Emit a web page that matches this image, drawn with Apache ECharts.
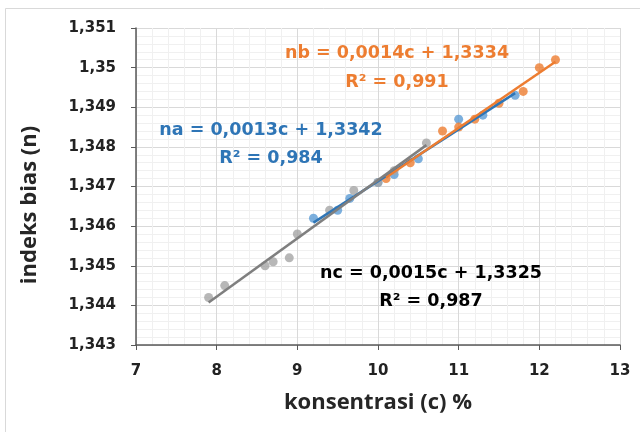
<!DOCTYPE html>
<html>
<head>
<meta charset="utf-8">
<script src="https://cdn.jsdelivr.net/npm/echarts@6/dist/echarts.min.js"></script>
<style>
  html, body { margin: 0; padding: 0; background: #fff; }
  #chart { width: 640px; height: 432px; }
</style>
</head>
<body>
<div id="chart"></div>
<script>
// data
const naX = [9.2, 9.5, 9.65, 10.0, 10.2, 10.5, 11.0, 11.3, 11.7];
const naY = [1.3462, 1.3464, 1.3467, 1.3471, 1.3473, 1.3477, 1.3487, 1.3488, 1.3493];
const nbX = [10.1, 10.4, 10.8, 11.0, 11.2, 11.5, 11.8, 12.0, 12.2];
const nbY = [1.3472, 1.3476, 1.3484, 1.3485, 1.3487, 1.3491, 1.3494, 1.3500, 1.3502];
const ncX = [7.9, 8.1, 8.6, 8.7, 8.9, 9.0, 9.4, 9.7, 10.0, 10.2, 10.6];
const ncY = [1.3442, 1.3445, 1.3450, 1.3451, 1.3452, 1.3458, 1.3464, 1.3469, 1.3471, 1.3474, 1.3481];
const yTickLabels = ['1,343', '1,344', '1,345', '1,346', '1,347', '1,348', '1,349', '1,35', '1,351'];
const xTickLabels = ['7', '8', '9', '10', '11', '12', '13'];
const eqLabels = {
  na: ['na = 0,0013c + 1,3342', 'R² = 0,984'],
  nb: ['nb = 0,0014c + 1,3334', 'R² = 0,991'],
  nc: ['nc = 0,0015c + 1,3325', 'R² = 0,987'],
};

const BLUE = '#5B9BD5', BLUE_TXT = '#2E75B6', ORANGE = '#ED7D31', GRAY = '#A5A5A5', GRAY_LINE = '#7F7F7F';
const NAME_FONT = '"Open Sans", sans-serif';
const TXT_FONT = '"DejaVu Sans", sans-serif';

function pairs(xs, ys) { return xs.map((x, i) => [x, ys[i]]); }

// least squares trendline over the x range of the points
function trend(xs, ys) {
  const n = xs.length;
  const mx = xs.reduce((a, b) => a + b, 0) / n;
  const my = ys.reduce((a, b) => a + b, 0) / n;
  let sxy = 0, sxx = 0;
  for (let i = 0; i < n; i += 1) {
    sxy += (xs[i] - mx) * (ys[i] - my);
    sxx += (xs[i] - mx) * (xs[i] - mx);
  }
  const b = sxy / sxx;
  const a = my - b * mx;
  const x0 = Math.min(...xs), x1 = Math.max(...xs);
  return [[x0, a + b * x0], [x1, a + b * x1]];
}

function scatter(name, xs, ys, color) {
  return { name, type: 'scatter', data: pairs(xs, ys), symbolSize: 9, itemStyle: { color }, z: 3 };
}
function line(name, xs, ys, color) {
  return {
    name, type: 'line', data: trend(xs, ys), symbol: 'none',
    lineStyle: { color, width: 2.5 }, z: 4,
  };
}
// equation + R² pair, centred on cx
function label(lines, cx, y, color) {
  return lines.map((t, i) => ({
    type: 'text', x: cx, y: y[i], z: 100,
    style: { text: t, fill: color, font: 'bold 17.5px ' + TXT_FONT, textAlign: 'center', textVerticalAlign: 'middle' },
  }));
}

const chart = echarts.init(document.getElementById('chart'));
chart.setOption({
  animation: false,
  backgroundColor: '#fff',
  grid: { left: 136, right: 20, top: 28, bottom: 87 },
  xAxis: {
    type: 'value', min: 7, max: 13, interval: 1,
    name: 'konsentrasi (c) %', nameLocation: 'middle', nameGap: 47,
    nameTextStyle: { fontFamily: NAME_FONT, fontWeight: 'bold', fontSize: 22, color: '#262626' },
    axisLine: { show: true, lineStyle: { color: '#595959', width: 1.5 } },
    axisTick: { show: true, inside: false, length: 5, lineStyle: { color: '#595959' } },
    axisLabel: {
      margin: 19, fontFamily: TXT_FONT, fontWeight: 'bold', fontSize: 15, color: '#222',
      formatter: (v) => xTickLabels[Math.round(v - 7)],
    },
    splitLine: { show: true, lineStyle: { color: '#D9D9D9' } },
    minorTick: { show: false, splitNumber: 5 },
    minorSplitLine: { show: true, lineStyle: { color: '#F0F0F0' } },
  },
  yAxis: {
    type: 'value', min: 1.343, max: 1.351, interval: 0.001,
    axisLine: { show: true, lineStyle: { color: '#595959', width: 1.5 } },
    axisTick: { show: true, inside: false, length: 5, lineStyle: { color: '#595959' } },
    axisLabel: {
      margin: 20, fontFamily: TXT_FONT, fontWeight: 'bold', fontSize: 15, color: '#222',
      formatter: (v) => yTickLabels[Math.round((v - 1.343) * 1000)],
    },
    splitLine: { show: true, lineStyle: { color: '#D9D9D9' } },
    minorTick: { show: false, splitNumber: 5 },
    minorSplitLine: { show: true, lineStyle: { color: '#F0F0F0' } },
  },
  series: [
    scatter('na', naX, naY, BLUE),
    scatter('nb', nbX, nbY, ORANGE),
    scatter('nc', ncX, ncY, GRAY),
    line('na trend', naX, naY, BLUE_TXT),
    line('nb trend', nbX, nbY, ORANGE),
    line('nc trend', ncX, ncY, GRAY_LINE),
  ],
  graphic: [
    { type: 'rect', shape: { x: 5.5, y: 8.5, width: 640, height: 430 }, style: { fill: 'none', stroke: '#D9D9D9', lineWidth: 1 }, z: -1 },
    {
      type: 'text', x: 30, y: 205, rotation: Math.PI / 2, z: 100,
      style: { text: 'indeks bias (n)', fill: '#262626', font: 'bold 22px ' + NAME_FONT, textAlign: 'center', textVerticalAlign: 'middle' },
    },
    ...label(eqLabels.nb, 397, [53, 82], ORANGE),
    ...label(eqLabels.na, 271, [130, 158], BLUE_TXT),
    ...label(eqLabels.nc, 431, [273, 301], '#000'),
  ],
});
</script>
</body>
</html>
